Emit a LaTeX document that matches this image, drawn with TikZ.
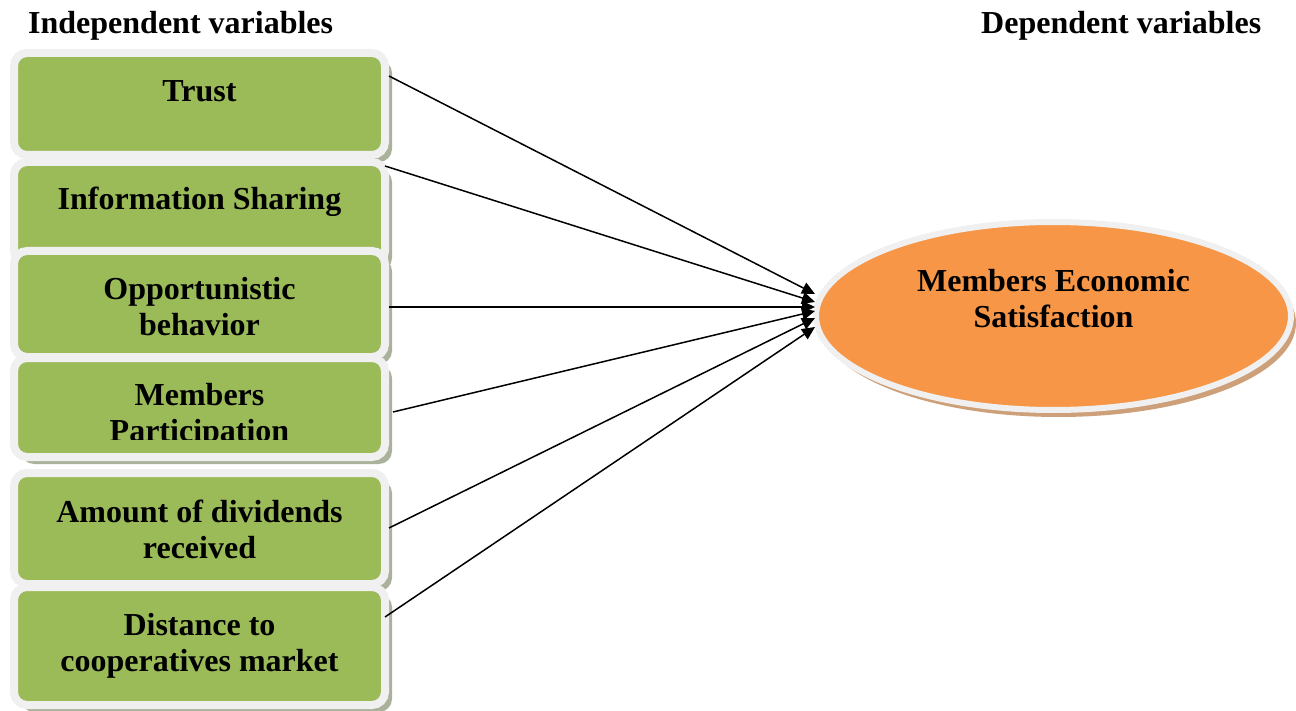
\documentclass[tikz,border=0pt]{standalone}
\usepackage{fontspec}
\setmainfont{Liberation Serif}
\usetikzlibrary{arrows.meta,shapes.geometric,shadows}
\definecolor{boxgreen}{HTML}{9BBB59}
\definecolor{ellorange}{HTML}{F79646}
\definecolor{rimgray}{HTML}{F0F0F0}
\definecolor{boxshadow}{RGB}{170,178,155}
\definecolor{ellshadow}{RGB}{205,160,122}
\begin{document}
\begin{tikzpicture}[x=1pt,y=-1pt,
  varbox/.style={rectangle, rounded corners=13pt, fill=boxgreen, draw=rimgray, line width=8pt,
    inner sep=0pt, minimum width=371pt,
    drop shadow={shadow xshift=7pt, shadow yshift=-7pt, fill=boxshadow, opacity=1}},
  depell/.style={ellipse, fill=ellorange, draw=rimgray, line width=6pt, inner sep=0pt,
    minimum width=475pt, minimum height=188pt,
    drop shadow={shadow xshift=5pt, shadow yshift=-7pt, fill=ellshadow, opacity=1}},
  vartext/.style={font=\fontsize{32}{36}\selectfont\bfseries, text width=380pt, align=flush center,
    anchor=base, inner sep=0pt},
  headtext/.style={font=\fontsize{32}{36}\selectfont\bfseries, anchor=base west, inner sep=0pt},
  conn/.style={line width=1.5pt, -{Triangle[length=13pt,width=12pt]}}
]
\useasboundingbox (0,0) rectangle (1296,711);

\node[headtext] (hind) at (28,34) {Independent variables};
\node[headtext] (hdep) at (981,34) {Dependent variables};

\node[varbox, minimum height=102pt] (b1) at (199.5,104) {};
\node[vartext] (l1) at (199.5,102) {Trust};
\node[varbox, minimum height=102pt] (b2) at (199.5,213) {};
\node[vartext] (l2) at (199.5,210) {Information Sharing};
\node[varbox, minimum height=106pt] (b3) at (199.5,304) {};
\node[vartext] (l3) at (199.5,300) {Opportunistic\\behavior};
\node[varbox, minimum height=99pt] (b4) at (199.5,407.5) {};
\begin{scope}
  \clip (0,0) rectangle (1296,439);
  \node[vartext] (l4) at (199.5,405) {Members\\Participation};
\end{scope}
\node[varbox, minimum height=111pt] (b5) at (199.5,528.5) {};
\node[vartext] (l5) at (199.5,522) {Amount of dividends\\received};
\node[varbox, minimum height=118pt] (b6) at (199.5,646) {};
\node[vartext] (l6) at (199.5,635) {Distance to\\cooperatives market};

\node[depell] (dv) at (1053.5,316) {};
\node[vartext] (ldv) at (1053.5,292) {Members Economic\\Satisfaction};

\coordinate (s1) at (389,76);
\coordinate (s2) at (385,166);
\coordinate (s3) at (389,307);
\coordinate (s4) at (393,412);
\coordinate (s5) at (389,528);
\coordinate (s6) at (385,617);
\coordinate (t1) at (815,294);
\coordinate (t2) at (815,302);
\coordinate (t3) at (815,307);
\coordinate (t4) at (815,311);
\coordinate (t5) at (815,318);
\coordinate (t6) at (815,327);

\draw[conn] (s1) -- (t1);
\draw[conn] (s2) -- (t2);
\draw[conn] (s3) -- (t3);
\draw[conn] (s4) -- (t4);
\draw[conn] (s5) -- (t5);
\draw[conn] (s6) -- (t6);
\end{tikzpicture}
\end{document}
